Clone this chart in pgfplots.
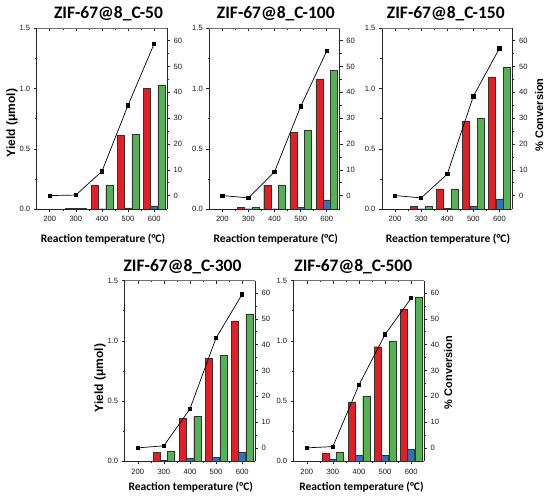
\documentclass[border=0pt]{standalone}
\usepackage{pgfplots}
\pgfplotsset{compat=1.18}
\usepackage{fontspec}
\setmainfont{Liberation Sans}
\newfontfamily\calfont{Carlito}
\definecolor{bred}{RGB}{228,30,36}
\definecolor{bgreen}{RGB}{84,178,82}
\definecolor{bblue}{RGB}{46,116,186}
\pgfplotsset{
  base/.style={width=130.5pt,height=180.7pt,scale only axis,anchor=south west,
    xmin=150,xmax=650,
    tick label style={font=\fontsize{7.6}{8}\selectfont,black!90},
    /pgf/number format/assume math mode=true,
    major tick length=3pt,minor tick length=1.8pt,
    tick style={black!85,line width=0.5pt},
    axis line style={-,black!85,line width=0.7pt}},
}
\newcommand{\subplot}[6]{%
\begin{axis}[base,at={(#1pt,#2pt)},ymin=0,ymax=1.5,
  axis x line*=bottom,axis y line*=left,tick align=outside,
  xtick={200,300,400,500,600},minor x tick num=1,
  ytick={0,0.5,1,1.5},minor y tick num=1,
  yticklabel style={/pgf/number format/fixed,/pgf/number format/fixed zerofill,/pgf/number format/precision=1},
  xticklabel style={yshift=-1pt}]
 \addplot[ybar,bar width=27,bar shift=-28,fill=bred,draw=black!80,line width=0.4pt] coordinates {#3};
 \addplot[ybar,bar width=27,bar shift=0,fill=bblue,draw=black!80,line width=0.4pt] coordinates {#4};
 \addplot[ybar,bar width=27,bar shift=28,fill=bgreen,draw=black!80,line width=0.4pt] coordinates {#5};
\end{axis}
\begin{axis}[base,at={(#1pt,#2pt)},ymin=-5.2,ymax=64.8,
  axis y line*=right,axis x line=none,tick align=outside,
  ytick={0,10,...,60},minor y tick num=1]
 \addplot[black,line width=0.7pt,mark=square*,mark size=1.7pt] coordinates {#6};
\end{axis}
\begin{axis}[base,at={(#1pt,#2pt)},ymin=0,ymax=1,
  axis x line*=top,axis y line=none,tick align=inside,
  x axis line style={-,black!55,line width=0.6pt},
  xtick={200,300,400,500,600},minor x tick num=1,xticklabels={}]
\end{axis}
}
\begin{document}
\begin{tikzpicture}
\useasboundingbox (0pt,0pt) rectangle (550pt,502pt);
% row 1
\subplot{36.7}{293}
 {(300,0.008)(400,0.197)(500,0.612)(600,1.0)}
 {(300,0.004)(400,0.002)(500,0.01)(600,0.025)}
 {(300,0.008)(400,0.197)(500,0.62)(600,1.03)}
 {(200,0)(300,0.2)(400,9.4)(500,35)(600,58.8)}
\subplot{209.3}{293}
 {(300,0.015)(400,0.198)(500,0.637)(600,1.08)}
 {(300,0.002)(400,0.002)(500,0.012)(600,0.075)}
 {(300,0.015)(400,0.198)(500,0.652)(600,1.15)}
 {(200,0)(300,-0.9)(400,9.2)(500,34.5)(600,56)}
\subplot{382}{293}
 {(300,0.02)(400,0.168)(500,0.725)(600,1.097)}
 {(300,0.002)(400,0.003)(500,0.022)(600,0.083)}
 {(300,0.02)(400,0.168)(500,0.75)(600,1.174)}
 {(200,0)(300,-0.9)(400,8.3)(500,38.5)(600,57)}
% row 2
\subplot{124.7}{40.7}
 {(300,0.075)(400,0.354)(500,0.855)(600,1.16)}
 {(300,0.01)(400,0.022)(500,0.03)(600,0.072)}
 {(300,0.086)(400,0.371)(500,0.88)(600,1.223)}
 {(200,0)(300,0.8)(400,15.1)(500,42.6)(600,59.5)}
\subplot{293.7}{40.7}
 {(300,0.069)(400,0.493)(500,0.951)(600,1.264)}
 {(300,0.017)(400,0.053)(500,0.05)(600,0.1)}
 {(300,0.078)(400,0.543)(500,1.0)(600,1.364)}
 {(200,0)(300,0.5)(400,24.4)(500,43.9)(600,58)}
% titles
\tikzset{ttl/.style={font=\calfont\bfseries\fontsize{17.5}{19}\selectfont,inner sep=0pt},
         xl/.style={font=\calfont\bfseries\fontsize{11.5}{13}\selectfont,inner sep=0pt},
         yl/.style={font=\bfseries\fontsize{12}{13}\selectfont,inner sep=0pt,rotate=90},
         cl/.style={font=\bfseries\fontsize{11}{13}\selectfont,inner sep=0pt,rotate=90}}
\node[ttl] at (108.5pt,488pt) {ZIF-67@8\_C-50};
\node[ttl] at (275.8pt,488pt) {ZIF-67@8\_C-100};
\node[ttl] at (445.8pt,488pt) {ZIF-67@8\_C-150};
\node[ttl] at (182.5pt,235.3pt) {ZIF-67@8\_C-300};
\node[ttl] at (353.3pt,235.3pt) {ZIF-67@8\_C-500};
% x labels
\node[xl] at (103pt,262.7pt) {Reaction temperature (°C)};
\node[xl] at (275.8pt,262.7pt) {Reaction temperature (°C)};
\node[xl] at (448pt,262.7pt) {Reaction temperature (°C)};
\node[xl] at (190.8pt,15pt) {Reaction temperature (°C)};
\node[xl] at (361.5pt,15pt) {Reaction temperature (°C)};
% y labels
\node[yl] at (12pt,379pt) {Yield (μmol)};
\node[yl] at (100pt,124pt) {Yield (μmol)};
\node[cl] at (539.3pt,387pt) {\% Conversion};
\node[cl] at (448.3pt,129.5pt) {\% Conversion};
\end{tikzpicture}
\end{document}
